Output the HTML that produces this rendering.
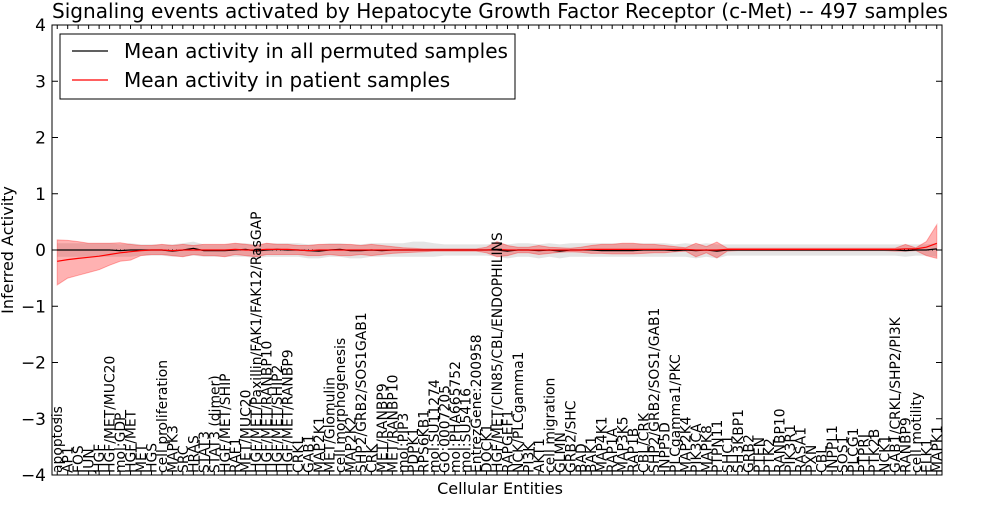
<!DOCTYPE html>
<html><head><meta charset="utf-8"><style>
body{margin:0;background:#fff;}
svg text{font-family:"DejaVu Sans","Liberation Sans",sans-serif;}
</style></head><body>
<svg id="chart" width="1000" height="500" xmlns="http://www.w3.org/2000/svg">
<rect width="1000" height="500" fill="#fff"/>
<text x="500" y="18" text-anchor="middle" font-size="20" textLength="896" lengthAdjust="spacingAndGlyphs">Signaling events activated by Hepatocyte Growth Factor Receptor (c-Met) -- 497 samples</text>
<text transform="translate(13,250) rotate(-90)" text-anchor="middle" font-size="16">Inferred Activity</text>
<text x="500" y="494" text-anchor="middle" font-size="16">Cellular Entities</text>
<g id="bands"></g><g id="lines"></g><g id="ticks"></g><g id="xlabels"></g>
<rect x="52" y="25" width="890" height="450" fill="none" stroke="#000" stroke-width="1"/>
<g>
<rect x="60" y="34" width="455" height="65" fill="#fff" stroke="#000"/>
<line x1="72" y1="51" x2="108" y2="51" stroke="#000" stroke-width="1.2"/>
<text x="124" y="58" font-size="20" textLength="384" lengthAdjust="spacingAndGlyphs">Mean activity in all permuted samples</text>
<line x1="72" y1="80" x2="108" y2="80" stroke="#f00" stroke-width="1.2"/>
<text x="124" y="87" font-size="20">Mean activity in patient samples</text>
</g>
</svg>
<script>
const categories=["apoptosis","AP1","FOS","JUN","HGF","HGF/MET/MUC20","mol:GDP","HGF/MET","MET","HGS","cell proliferation","MAPK3","SRC","HRAS","STAT3","STAT3 (dimer)","HGF/MET/SHIP","RAF1","MET/MUC20","HGF/MET/Paxillin/FAK1/FAK12/RasGAP","HGF/MET/RANBP10","HGF/MET/SHIP2","HGF/MET/RANBP9","CRKL","GAB1","MAP2K1","MET/Glomulin","cell morphogenesis","MAP2K2","SHP2/GRB2/SOS1GAB1","CRK","MET/RANBP9","MET/RANBP10","mol:PIP3","PDPK1","RPS6KB1","mol:SU11274","GO:0007205","mol:PHA665752","mol:SU5416","EntrezGene:200958","DOCK1","HGF/MET/CIN85/CBL/ENDOPHILINS","RAPGEF1","NCK/PLCgamma1","PI3K","AKT1","cell migration","GLMN","GRB2/SHC","BAD","BAK1","MAP4K1","RAP1A","MAP3K5","RAP1B","CBL/CRK","SHP2/GRB2/SOS1/GAB1","INPP5D","PLCgamma1/PKC","MAP2K4","PIK3CA","MAPK8","PTPN11","SHC1","SH3KBP1","GRB2","PTEN","PTK2","RANBP10","PIK3R1","RASA1","PXN","CBL","INPPL1","SOS1","PLCG1","PTPRJ","PTK2B","NCK1","GAB1/CRKL/SHP2/PI3K","RANBP9","cell motility","ELK1","MAPK1"];
const yTicks=[-4,-3,-2,-1,0,1,2,3,4];
const patientMean=[-0.2,-0.17,-0.15,-0.13,-0.11,-0.08,-0.05,-0.03,-0.01,0,0,-0.01,0,0,0,0,0,0.01,0,0,0.01,0.01,0.01,0,-0.01,0,0,0,0,0,0,0,0,0,0,0,0,0,0,0,0,0,0.01,0,0,0,0,0,0,0,0,0.01,0.01,0.01,0.01,0.01,0.01,0.01,0.01,0.01,0.01,0,0,0,0.01,0.01,0.01,0.01,0.01,0.01,0.01,0.01,0.01,0.01,0.01,0.01,0.01,0.01,0.01,0.01,0.01,0.02,0.02,0.05,0.12];
const patientLow=[-0.62,-0.5,-0.45,-0.4,-0.35,-0.27,-0.2,-0.18,-0.1,-0.08,-0.08,-0.1,-0.12,-0.08,-0.1,-0.1,-0.12,-0.08,-0.1,-0.12,-0.08,-0.08,-0.08,-0.08,-0.1,-0.1,-0.08,-0.1,-0.1,-0.08,-0.1,-0.08,-0.06,-0.05,-0.04,-0.03,-0.02,-0.02,-0.02,-0.02,-0.02,-0.05,-0.12,-0.1,-0.05,-0.05,-0.08,-0.06,-0.04,-0.03,-0.04,-0.06,-0.06,-0.07,-0.07,-0.07,-0.06,-0.05,-0.05,-0.03,-0.02,-0.12,-0.05,-0.14,-0.02,-0.01,-0.01,-0.01,-0.01,-0.01,-0.01,-0.01,-0.01,-0.01,-0.01,-0.01,-0.01,-0.01,-0.01,-0.01,-0.02,-0.02,-0.01,-0.1,-0.15];
const patientHigh=[0.18,0.17,0.15,0.12,0.12,0.12,0.13,0.1,0.08,0.08,0.1,0.08,0.1,0.08,0.1,0.1,0.1,0.12,0.1,0.08,0.12,0.1,0.1,0.08,0.08,0.1,0.1,0.1,0.1,0.08,0.1,0.08,0.06,0.04,0.03,0.02,0.02,0.02,0.02,0.02,0.02,0.05,0.15,0.08,0.05,0.05,0.08,0.05,0.04,0.03,0.05,0.08,0.1,0.1,0.12,0.12,0.1,0.1,0.08,0.06,0.04,0.12,0.06,0.14,0.03,0.03,0.03,0.03,0.03,0.03,0.03,0.03,0.03,0.03,0.03,0.03,0.03,0.03,0.03,0.03,0.03,0.1,0.04,0.15,0.45];
const permMean=[0,0,0,0,0,0,-0.01,0,0,0,0,-0.02,0,0.03,-0.01,-0.01,-0.01,0,0.01,-0.02,0,0.01,0,0,-0.01,-0.02,0,0.01,-0.01,-0.01,0,-0.01,0,0,0,0,0,0,0,0,0,0,0,-0.02,0,0,-0.01,0,-0.02,0,0,0,-0.01,-0.01,-0.01,-0.01,0,0,0,-0.01,0,-0.01,0,-0.02,0,0,0,0,0,0,0,0,0,0,0,0,0,0,0,0,0,-0.01,0,0,0.02];
const permLow=[-0.12,-0.12,-0.12,-0.12,-0.12,-0.12,-0.12,-0.12,-0.1,-0.1,-0.1,-0.12,-0.12,-0.1,-0.12,-0.12,-0.12,-0.12,-0.12,-0.15,-0.12,-0.12,-0.12,-0.12,-0.15,-0.15,-0.12,-0.12,-0.15,-0.15,-0.12,-0.12,-0.12,-0.12,-0.12,-0.12,-0.12,-0.1,-0.1,-0.1,-0.1,-0.1,-0.12,-0.15,-0.12,-0.12,-0.15,-0.12,-0.15,-0.12,-0.12,-0.12,-0.12,-0.12,-0.12,-0.12,-0.12,-0.12,-0.12,-0.12,-0.12,-0.15,-0.12,-0.15,-0.1,-0.1,-0.1,-0.1,-0.1,-0.1,-0.1,-0.1,-0.1,-0.1,-0.1,-0.1,-0.1,-0.1,-0.1,-0.1,-0.1,-0.12,-0.1,-0.1,-0.12];
const permHigh=[0.12,0.12,0.12,0.12,0.12,0.12,0.1,0.12,0.1,0.1,0.1,0.1,0.12,0.15,0.1,0.1,0.1,0.12,0.12,0.1,0.12,0.12,0.12,0.12,0.1,0.1,0.12,0.12,0.1,0.1,0.12,0.12,0.12,0.12,0.15,0.15,0.12,0.1,0.1,0.1,0.1,0.1,0.12,0.1,0.12,0.12,0.1,0.12,0.1,0.12,0.12,0.12,0.12,0.12,0.12,0.12,0.12,0.12,0.12,0.1,0.12,0.1,0.12,0.1,0.1,0.1,0.1,0.1,0.1,0.1,0.1,0.1,0.1,0.1,0.1,0.1,0.1,0.1,0.1,0.1,0.1,0.1,0.1,0.1,0.12];

const NS='http://www.w3.org/2000/svg';
const X0=52,X1=942,Y0=25,Y1=475;
const n=categories.length;
const xs=i=>X0+(i+0.5)*(X1-X0)/n;
const ys=v=>Y1-(v+4)/8*(Y1-Y0);
function mk(tag,attrs,parent){const e=document.createElementNS(NS,tag);for(const k in attrs)e.setAttribute(k,attrs[k]);parent.appendChild(e);return e;}
function band(lo,hi){let d='M'+lo.map((v,i)=>xs(i).toFixed(1)+','+ys(v).toFixed(1)).join('L');for(let i=hi.length-1;i>=0;i--)d+='L'+xs(i).toFixed(1)+','+ys(hi[i]).toFixed(1);return d+'Z';}
function line(a){return 'M'+a.map((v,i)=>xs(i).toFixed(1)+','+ys(v).toFixed(1)).join('L');}
const B=document.getElementById('bands'),L=document.getElementById('lines'),T=document.getElementById('ticks'),XL=document.getElementById('xlabels');
const gb=mk('path',{d:band(permLow,permHigh),fill:'#bbb','fill-opacity':'0.4',stroke:'none'},B);


const rb=mk('path',{d:band(patientLow,patientHigh),fill:'#f00','fill-opacity':'0.3',stroke:'#f00','stroke-opacity':'0.3'},B);


const zl=mk('line',{x1:X0,x2:X1,y1:ys(0),y2:ys(0),stroke:'#000','stroke-dasharray':'1,3','stroke-width':1},L);


const bl=mk('path',{d:line(permMean),fill:'none',stroke:'#000','stroke-width':1.2},L);


const rl=mk('path',{d:line(patientMean),fill:'none',stroke:'#f00','stroke-width':1.2},L);


yTicks.forEach(v=>{
  const y=ys(v);
  mk('line',{x1:X0,x2:X0+6,y1:y,y2:y,stroke:'#000'},T);
  mk('line',{x1:X1-6,x2:X1,y1:y,y2:y,stroke:'#000'},T);
  const t=mk('text',{x:X0-6,y:y+6,'text-anchor':'end','font-size':17},T);
  t.textContent=(v<0?'\u2212'+(-v):String(v));
  
  
});
categories.forEach((c,i)=>{
  const x=xs(i);
  mk('line',{x1:x,x2:x,y1:Y1,y2:Y1-4,stroke:'#000'},T);
  mk('line',{x1:x,x2:x,y1:Y0,y2:Y0+4,stroke:'#000'},T);
  const t=mk('text',{transform:'translate('+(x+5).toFixed(1)+','+(Y1-2)+') rotate(-90)','font-size':13.9},XL);
  t.textContent=c;
  
  
});
</script>
</body></html>
